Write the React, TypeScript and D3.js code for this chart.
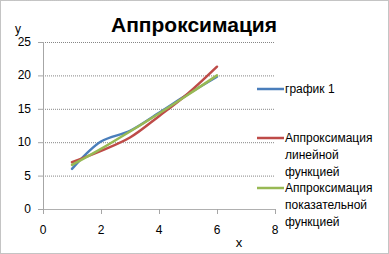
import React from "react";
import * as d3 from "d3";

const xValues = [1, 2, 3, 4, 5, 6];
const seriesGraph = [6.0, 10.1, 11.7, 14.4, 17.2, 19.8];
const seriesLinear = [7.0, 8.7, 10.7, 13.9, 17.3, 21.3];
const seriesExp = [6.6, 9.0, 11.6, 14.3, 17.1, 20.0];
const xTicks = [0, 2, 4, 6, 8];
const yTicks = [0, 5, 10, 15, 20, 25];
const seriesNames = ["график 1", "Аппроксимация линейной функцией", "Аппроксимация показательной функцией"];
const legendLines = [["график 1"], ["Аппроксимация", "линейной", "функцией"], ["Аппроксимация", "показательной", "функцией"]];
const colors = ["#4a7ebb", "#be4b48", "#98b954"];

export default function App() {
  const W = 389, H = 254;
  const x = d3.scaleLinear().domain([0, 8]).range([43, 275]);
  const y = d3.scaleLinear().domain([0, 25]).range([209, 42]);
  const line = d3.line<number>().x((_, i) => x(xValues[i])).y((d) => y(d)).curve(d3.curveCatmullRom.alpha(0.5));
  const allSeries = [seriesGraph, seriesLinear, seriesExp];
  const font = "'Liberation Sans', Arial, sans-serif";
  const legendY = [89, 138, 188];
  return (
    <svg width={W} height={H} style={{ position: "absolute", left: 0, top: 0, fontFamily: font }}>
      <rect x={0} y={0} width={W} height={H} fill="#fff" />
      <rect x={0.5} y={0.5} width={W - 1} height={H - 1} fill="none" stroke="#888" strokeDasharray="1,1" />
      <text x={194} y={32} textAnchor="middle" fontSize={21} fontWeight="bold" fill="#000">Аппроксимация</text>
      {yTicks.map((t) => (
        <g key={"y" + t}>
          {t > 0 && <line x1={43} x2={275} y1={y(t) + 0.5} y2={y(t) + 0.5} stroke="#868686" strokeDasharray="1,1" />}
          <line x1={38} x2={43} y1={y(t) + 0.5} y2={y(t) + 0.5} stroke="#a6a6a6" />
          <text x={31} y={y(t) + 4} textAnchor="end" fontSize={12} fill="#000">{t}</text>
        </g>
      ))}
      <line x1={43.5} x2={43.5} y1={y(25)} y2={y(0) + 0.5} stroke="#a6a6a6" />
      <line x1={43} x2={275} y1={y(0) + 0.5} y2={y(0) + 0.5} stroke="#b0b0b0" />
      {xTicks.map((t) => (
        <g key={"x" + t}>
          <line x1={x(t) + 0.5} x2={x(t) + 0.5} y1={209} y2={214} stroke="#a6a6a6" />
          <text x={x(t)} y={234} textAnchor="middle" fontSize={12} fill="#000">{t}</text>
        </g>
      ))}
      <text x={18} y={33} textAnchor="middle" fontSize={12} fill="#000">y</text>
      <text x={239} y={247} textAnchor="middle" fontSize={13} fill="#000">x</text>
      {allSeries.map((s, i) => (
        <path key={seriesNames[i]} d={line(s) || ""} fill="none" stroke={colors[i]} strokeWidth={2.5} strokeLinecap="round" />
      ))}
      {legendLines.map((lines, i) => (
        <g key={"leg" + i}>
          <line x1={257} x2={284} y1={legendY[i]} y2={legendY[i]} stroke={colors[i]} strokeWidth={2.5} />
          {lines.map((l, j) => (
            <text key={j} x={285} y={legendY[i] + 4 + j * 17} fontSize={12} fill="#000">{l}</text>
          ))}
        </g>
      ))}
    </svg>
  );
}
